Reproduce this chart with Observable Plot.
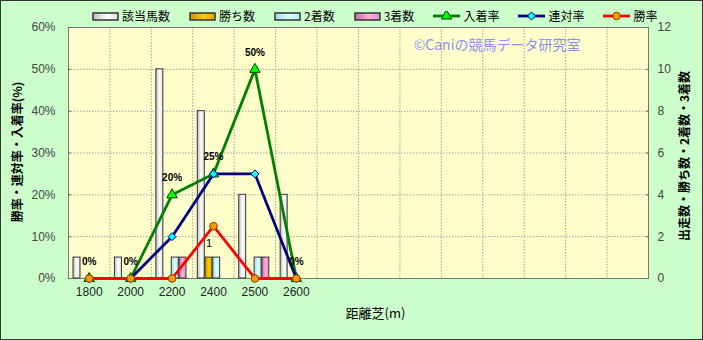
<!DOCTYPE html>
<html><head><meta charset="utf-8">
<script src="https://cdn.jsdelivr.net/npm/d3@7"></script>
<script src="https://cdn.jsdelivr.net/npm/@observablehq/plot@0.6"></script>
<style>
body{margin:0;background:#fff;}
#wrap{position:relative;width:703px;height:340px;box-sizing:border-box;border:1px solid #2f3a2f;background:#CCFFCC;overflow:hidden;font-family:"Liberation Sans","Noto Sans CJK JP",sans-serif;}
#chart{position:absolute;left:0;top:0;}
#legend{position:absolute;top:8px;left:91px;display:flex;align-items:center;gap:19px;font-size:12px;color:#000;font-family:"Noto Sans CJK JP",sans-serif;line-height:14px;}
.item{display:flex;align-items:center;gap:3px;}
</style></head>
<body>
<div id="wrap"><div id="chart"></div><div id="legend"></div></div>
<script>
// ---- data ----
const categories = ["1800","2000","2200","2400","2500","2600"];
const blankSlots = ["b1","b2","b3","b4","b5","b6","b7","b8"];
const runners  = [1, 1, 10, 8, 4, 4];    // 該当馬数
const wins     = [0, 0, 0, 1, 0, 0];     // 勝ち数
const seconds  = [0, 0, 1, 1, 1, 0];     // 2着数
const thirds   = [0, 0, 1, 0, 1, 0];     // 3着数
const placeRate    = [0, 0, 20, 25, 50, 0];   // 入着率
const quinellaRate = [0, 0, 10, 25, 25, 0];   // 連対率
const winRate      = [0, 0, 0, 12.5, 0, 0];   // 勝率
const placeLabels  = ["0%","0%","20%","25%","50%","0%"];
const leftTicks  = [0, 10, 20, 30, 40, 50, 60];
const rightTicks = [0, 2, 4, 6, 8, 10, 12];
const barNames  = ["該当馬数","勝ち数","2着数","3着数"];
const lineNames = ["入着率","連対率","勝率"];

// ---- build ----
const rows = categories.map((c, i) => ({cat: c, runners: runners[i], wins: wins[i], seconds: seconds[i], thirds: thirds[i],
  place: placeRate[i], quinella: quinellaRate[i], win: winRate[i], label: placeLabels[i]}));
const xDomain = categories.concat(blankSlots);
const countMax = 12, pctMax = 60, k = pctMax / countMax;
const W = 701, H = 338, mL = 67, mR = 54, mT = 26, mB = 61;
const bw = (W - mL - mR) / xDomain.length;
const barW = 7, barStart = 5, barStep = 7.7;

const barSeries = [
  {key: "runners", fill: "url(#gWhite)"},
  {key: "wins", fill: "url(#gGold)"},
  {key: "seconds", fill: "url(#gCyan)"},
  {key: "thirds", fill: "url(#gPink)"}
];
const lineSeries = [
  {key: "place", stroke: "#008000", symbol: "triangle", r: 3.9, fill: "#00FF00", mstroke: "#004400"},
  {key: "quinella", stroke: "#000080", symbol: "diamond2", r: 3.6, fill: "#00FFFF", mstroke: "#000080"},
  {key: "win", stroke: "#FF0000", symbol: "circle", r: 3.8, fill: "#FF9900", mstroke: "#7a4000"}
];

const marks = [
  Plot.frame({fill: "#FFFFCC", stroke: null}),
  Plot.gridY(leftTicks.slice(1, -1), {stroke: "#a0a0a0", strokeOpacity: 1, strokeDasharray: "1.5,1.5"}),
  Plot.ruleX(xDomain.slice(1), {dx: -bw / 2, stroke: "#a0a0a0", strokeDasharray: "1.5,1.5"}),
  Plot.frame({stroke: "#777"}),
  Plot.text(["©Caniの競馬データ研究室"], {frameAnchor: "top-right", dx: -68, dy: 13, textAnchor: "end", fill: "#8F8FEF", fontSize: 14, fontFamily: "Noto Sans CJK JP"}),
];
barSeries.forEach((s, i) => {
  const L = barStart + barStep * i;
  marks.push(Plot.barY(rows.filter(d => d[s.key] > 0), {x: "cat", y: d => d[s.key] * k, fill: s.fill, stroke: "#333", strokeWidth: 1,
    insetLeft: L, insetRight: bw - L - barW}));
});
marks.push(Plot.text(rows.filter(d => d.wins > 0), {x: "cat", y: d => d.wins * k, text: d => String(d.wins),
  dx: barStart + barStep + barW / 2 - bw / 2, dy: -14, fontSize: 11, fill: "#000"}));
lineSeries.forEach(s => {
  marks.push(Plot.line(rows, {x: "cat", y: s.key, stroke: s.stroke, strokeWidth: 2.8}));
  marks.push(Plot.dot(rows, {x: "cat", y: s.key, symbol: s.symbol, r: s.r, fill: s.fill, stroke: s.mstroke, strokeWidth: 1}));
});
marks.push(Plot.text(rows, {x: "cat", y: "place", text: "label", dy: -17, fontSize: 10, fontWeight: "bold", fill: "#000"}));
marks.push(
  Plot.axisX({tickSize: 0, tickPadding: 9, tickFormat: d => categories.includes(d) ? d : "", fontSize: 12, fill: "#222", label: null}),
  Plot.axisY({anchor: "left", ticks: leftTicks, tickFormat: d => d + "%", tickSize: -3, tickPadding: 16, fontSize: 12, fill: "#444", stroke: "#666", label: null}),
  Plot.axisY({anchor: "right", ticks: rightTicks.map(v => v * k), tickFormat: d => String(d / k), tickSize: -3, tickPadding: 12, fontSize: 12, fill: "#444", stroke: "#666", label: null}),
  Plot.text(["勝率・連対率・入着率(%)"], {frameAnchor: "left", dx: -50, dy: -1, rotate: -90, textAnchor: "middle", fontSize: 12, fontWeight: "bold", fill: "#000", fontFamily: "Noto Sans CJK JP"}),
  Plot.text(["出走数・勝ち数・2着数・3着数"], {frameAnchor: "right", dx: 37, dy: 3, rotate: -90, textAnchor: "middle", fontSize: 12, fontWeight: "bold", fill: "#000", fontFamily: "Noto Sans CJK JP"}),
  Plot.text(["距離芝(m)"], {frameAnchor: "bottom", dx: 17, dy: 39, fontSize: 13, fill: "#000", fontFamily: "Noto Sans CJK JP"})
);

const chart = Plot.plot({
  width: W, height: H, marginLeft: mL, marginRight: mR, marginTop: mT, marginBottom: mB,
  style: {background: "transparent", fontFamily: "'Liberation Sans','Noto Sans CJK JP',sans-serif", fontSize: "12px", overflow: "visible"},
  x: {type: "band", domain: xDomain, padding: 0, round: false},
  y: {domain: [0, pctMax], nice: false},
  marks
});
const ns = "http://www.w3.org/2000/svg";
const defs = document.createElementNS(ns, "defs");
const grad = (id, a, b, c) => `<linearGradient id="${id}" x1="0" x2="1" y1="0" y2="0"><stop offset="0" stop-color="${a}"/><stop offset="0.55" stop-color="${b}"/><stop offset="1" stop-color="${c}"/></linearGradient>`;
const gradStops = [["#bdbdbd","#ffffff","#dedede"],["#c99400","#ffcc00","#e0a800"],["#9fdbe6","#ddffff","#b6eef5"],["#c86aa0","#ffb0dc","#e58fc3"]];
defs.innerHTML = grad("gWhite", ...gradStops[0]) + grad("gGold", ...gradStops[1]) + grad("gCyan", ...gradStops[2]) + grad("gPink", ...gradStops[3]);
chart.insertBefore(defs, chart.firstChild);
document.getElementById("chart").appendChild(chart);

// ---- legend ----
const legend = document.getElementById("legend");
barNames.forEach((n, i) => {
  const it = document.createElement("div"); it.className = "item";
  it.innerHTML = `<svg width="27" height="9"><defs>${grad("lg" + i, ...gradStops[i])}</defs><rect x="1" y="1" width="25" height="7" fill="url(#lg${i})" stroke="#333" stroke-width="1.5"/></svg><span>${n}</span>`;
  legend.appendChild(it);
});
lineNames.forEach((n, i) => {
  const s = lineSeries[i];
  const it = document.createElement("div"); it.className = "item";
  const sym = d3.symbol(s.symbol === "triangle" ? d3.symbolTriangle : s.symbol === "diamond2" ? d3.symbolDiamond2 : d3.symbolCircle, s.r * s.r * Math.PI)();
  it.innerHTML = `<svg width="27" height="10"><line x1="0" x2="27" y1="5" y2="5" stroke="${s.stroke}" stroke-width="2.8"/><path transform="translate(13.5,5)" d="${sym}" fill="${s.fill}" stroke="${s.mstroke}"/></svg><span>${n}</span>`;
  legend.appendChild(it);
});
</script>
</body></html>
